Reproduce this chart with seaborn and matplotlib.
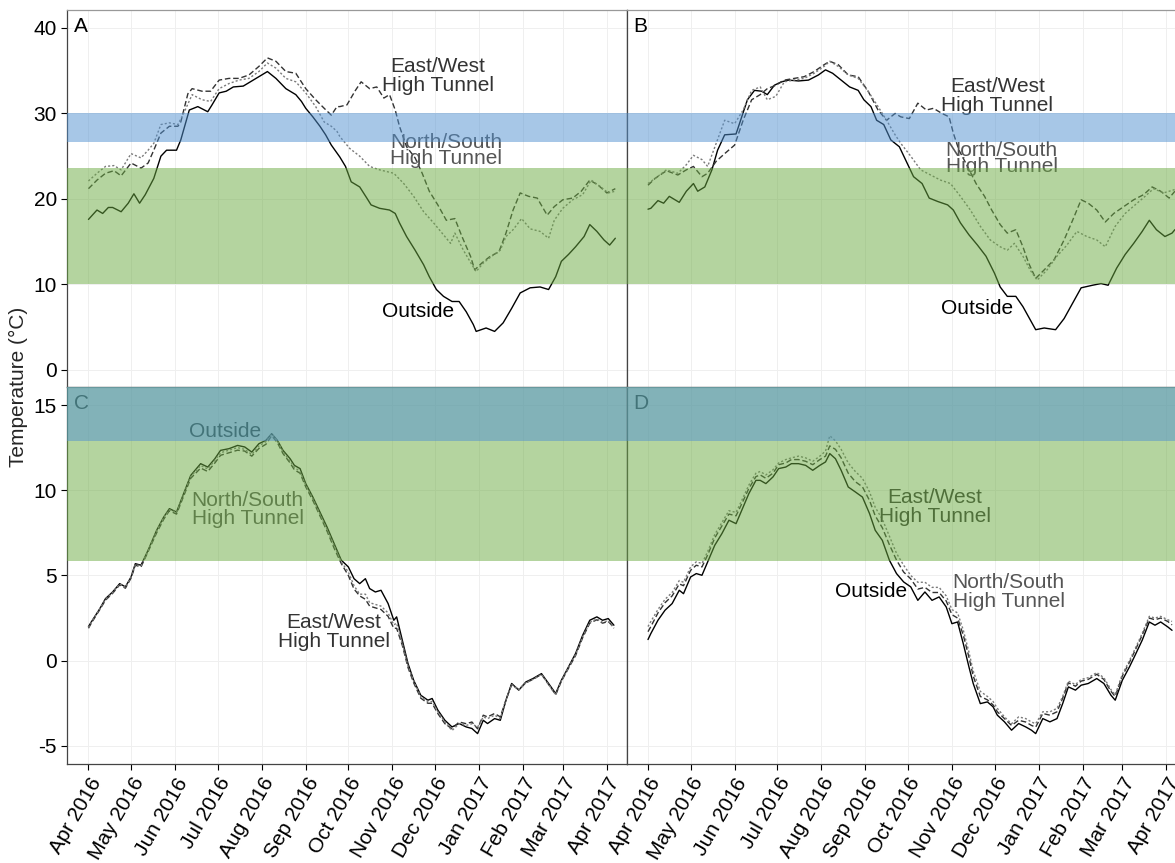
import numpy as np
import pandas as pd
import matplotlib
matplotlib.use("Agg")
import matplotlib.pyplot as plt
import matplotlib.dates as mdates
import seaborn as sns

# ====================
# data (days after 2016-04-01, temperature in deg C)
# ====================
START = pd.Timestamp("2016-04-01")

# panel A
a_out_day = [0, 6, 10, 14, 17, 23, 28, 32, 36, 40, 46, 51, 55, 62, 65, 71, 77, 84, 87, 92,
             97, 102, 109, 114, 120, 126, 132, 139, 146, 150, 153, 158, 163, 167, 171, 177, 181, 185, 191, 196,
             199, 205, 212, 216, 219, 224, 230, 236, 240, 245, 250, 256, 261, 266, 271, 273, 280, 286, 292, 298,
             304, 311, 318, 324, 329, 333, 338, 343, 349, 353, 358, 363, 367, 371]
a_out = [17.6, 18.7, 18.3, 19.0, 19.0, 18.5, 19.5, 20.6, 19.5, 20.5, 22.4, 25.0, 25.7, 25.7, 26.9, 30.4, 30.8, 30.2, 31.0, 32.4,
         32.6, 33.1, 33.2, 33.7, 34.3, 34.9, 34.1, 32.9, 32.2, 31.4, 30.6, 29.6, 28.5, 27.5, 26.3, 24.9, 23.8, 22.0, 21.4, 20.1,
         19.3, 18.9, 18.7, 18.3, 17.2, 15.6, 14.0, 12.3, 10.9, 9.4, 8.6, 8.0, 8.0, 6.8, 5.3, 4.5, 4.9, 4.5, 5.5, 7.2,
         9.0, 9.6, 9.7, 9.4, 10.9, 12.7, 13.5, 14.4, 15.6, 17.0, 16.2, 15.2, 14.6, 15.4]
a_ew_day = [0, 6, 12, 18, 23, 30, 37, 42, 46, 51, 57, 63, 65, 70, 73, 80, 86, 92, 99, 106,
            113, 120, 126, 132, 139, 146, 153, 160, 166, 171, 175, 177, 182, 188, 192, 198, 203, 208, 212, 216,
            219, 224, 230, 235, 240, 246, 252, 258, 263, 269, 272, 277, 283, 289, 294, 299, 304, 310, 316, 323,
            328, 334, 341, 347, 353, 359, 365, 371]
a_ew = [21.2, 22.2, 23.0, 23.3, 22.7, 24.2, 23.6, 24.2, 25.7, 27.7, 28.5, 28.5, 29.0, 32.3, 32.9, 32.6, 32.6, 33.9, 34.1, 34.1,
        34.5, 35.5, 36.5, 36.1, 34.9, 34.7, 32.9, 31.6, 30.6, 29.8, 30.8, 30.8, 31.0, 32.7, 33.7, 32.9, 33.1, 31.8, 32.2, 30.4,
        28.5, 26.1, 24.8, 23.0, 20.9, 19.3, 17.5, 17.7, 15.6, 13.3, 11.7, 12.5, 13.3, 13.8, 16.0, 18.7, 20.7, 20.3, 20.1, 18.1,
        19.1, 19.9, 20.1, 20.9, 22.2, 21.6, 20.7, 21.2]
a_ns_day = [0, 6, 12, 18, 23, 30, 37, 42, 46, 51, 57, 63, 67, 73, 80, 86, 92, 99, 106, 113,
            120, 126, 132, 139, 146, 153, 160, 166, 171, 175, 177, 184, 191, 198, 205, 215, 222, 229, 236, 243,
            250, 255, 258, 264, 270, 273, 278, 284, 290, 294, 299, 305, 311, 318, 324, 328, 334, 341, 348, 354,
            360, 366, 371]
a_ns = [22.1, 23.0, 23.8, 23.9, 23.4, 25.3, 24.8, 25.7, 26.5, 28.7, 28.9, 28.7, 30.0, 32.2, 31.6, 31.4, 32.9, 33.5, 33.9, 34.1,
        34.9, 35.9, 35.3, 34.1, 33.7, 32.4, 30.8, 29.0, 28.5, 27.9, 27.3, 25.9, 25.0, 23.8, 23.4, 23.0, 21.8, 20.3, 18.5, 17.2,
        15.8, 14.8, 16.0, 14.0, 12.3, 11.5, 12.5, 13.3, 14.0, 15.6, 16.4, 17.7, 16.5, 16.2, 15.4, 17.5, 18.9, 19.9, 20.5, 22.2,
        21.5, 20.7, 20.9]

# panel B
b_out_day = [0, 2, 7, 11, 15, 22, 27, 32, 35, 40, 45, 49, 54, 62, 66, 70, 75, 80, 84, 89,
             94, 99, 106, 113, 120, 125, 130, 136, 142, 148, 152, 157, 161, 166, 171, 177, 183, 187, 193, 198,
             204, 211, 215, 220, 226, 232, 238, 244, 248, 253, 259, 264, 268, 273, 279, 287, 293, 299, 305, 313,
             319, 324, 330, 336, 342, 348, 353, 358, 364, 369, 371]
b_out = [18.8, 18.9, 19.8, 19.5, 20.3, 19.6, 20.9, 21.8, 20.9, 21.4, 23.4, 25.7, 27.5, 27.6, 29.6, 31.6, 32.7, 32.6, 32.2, 33.3,
         33.7, 33.9, 33.8, 33.9, 34.5, 35.1, 34.7, 33.9, 33.1, 32.7, 31.6, 30.8, 29.2, 28.7, 26.9, 26.1, 24.0, 22.6, 21.8, 20.1,
         19.7, 19.3, 18.7, 17.2, 15.8, 14.6, 13.3, 11.3, 9.7, 8.6, 8.6, 7.4, 6.2, 4.7, 4.9, 4.7, 6.0, 7.8, 9.6, 9.9,
         10.1, 9.9, 11.9, 13.5, 14.8, 16.2, 17.5, 16.4, 15.6, 16.0, 16.4]
b_ew_day = [0, 5, 13, 21, 27, 32, 38, 42, 48, 54, 61, 67, 73, 79, 84, 90, 96, 103, 110, 117,
            124, 128, 134, 141, 148, 155, 162, 168, 174, 178, 184, 190, 196, 201, 207, 212, 215, 219, 225,
            231, 237, 242, 248, 253, 259, 264, 268, 273, 279, 286, 293, 299, 305, 310, 316, 322, 328, 335, 342,
            349, 355, 361, 367, 371]
b_ew = [21.6, 22.4, 23.3, 22.8, 23.4, 23.8, 22.6, 23.0, 24.4, 25.3, 26.3, 29.2, 31.6, 32.2, 32.9, 33.3, 33.9, 34.1, 34.3, 34.9,
        35.7, 36.1, 35.7, 34.5, 34.3, 32.6, 30.4, 29.2, 30.0, 29.6, 29.4, 31.2, 30.4, 30.6, 30.0, 29.6, 27.7, 25.7, 23.8,
        21.8, 20.3, 18.7, 17.0, 16.0, 16.4, 14.4, 12.5, 10.7, 11.7, 12.9, 15.2, 17.5, 19.9, 19.5, 18.7, 17.3, 18.3, 19.1, 19.9,
        20.5, 21.4, 20.9, 20.1, 20.9]
b_ns_day = [0, 5, 13, 21, 27, 32, 38, 42, 48, 54, 61, 67, 73, 79, 84, 90, 96, 103, 110, 117,
            124, 128, 134, 141, 148, 155, 162, 168, 174, 178, 185, 192, 199, 206, 213, 220, 227, 234, 241,
            248, 253, 258, 264, 269, 274, 281, 288, 295, 302, 309, 316, 322, 329, 336, 343, 350, 356, 363, 371]
b_ns = [21.8, 22.4, 23.4, 23.0, 24.0, 25.1, 24.6, 23.8, 26.5, 29.2, 28.8, 30.4, 32.7, 33.1, 31.6, 32.0, 33.7, 33.9, 34.1, 34.7,
        35.5, 36.1, 35.5, 34.5, 34.1, 32.6, 30.8, 29.2, 27.5, 26.5, 25.0, 23.4, 22.8, 22.2, 21.8, 20.3, 18.7, 16.8, 15.2,
        14.4, 14.0, 14.8, 13.3, 11.7, 10.5, 11.7, 13.3, 14.6, 16.2, 15.6, 15.2, 14.4, 16.8, 18.3, 19.3, 20.3, 21.2, 20.7, 21.1]

# panel C
c_day = [0, 2, 8, 12, 17, 22, 26, 30, 33, 37, 42, 48, 53, 57, 62, 67, 72, 79, 84, 89,
         93, 99, 105, 110, 115, 120, 125, 129, 133, 137, 142, 145, 149, 153, 158, 163, 168, 173, 178, 183,
         187, 191, 195, 198, 202, 206, 211, 215, 217, 221, 225, 229, 234, 239, 242, 246, 251, 256, 261, 266,
         270, 274, 278, 281, 286, 290, 294, 298, 303, 308, 313, 319, 324, 329, 333, 338, 343, 348, 353, 358,
         362, 366, 370]
c_out = [2.0, 2.27, 3.05, 3.64, 4.03, 4.52, 4.33, 4.91, 5.69, 5.6, 6.48, 7.65, 8.43, 8.92, 8.72, 9.8, 10.87, 11.56, 11.36, 11.85,
         12.34, 12.44, 12.63, 12.54, 12.24, 12.73, 12.93, 13.32, 12.93, 12.34, 11.85, 11.46, 11.27, 10.39, 9.6, 8.72, 7.84, 6.87, 5.9, 5.5,
         4.81, 4.52, 4.81, 4.23, 4.03, 4.13, 3.35, 2.37, 2.57, 1.2, -0.17, -1.15, -2.03, -2.32, -2.22, -2.9, -3.5, -3.89, -3.69, -3.89,
         -3.98, -4.28, -3.5, -3.69, -3.4, -3.5, -2.32, -1.34, -1.73, -1.25, -1.05, -0.76, -1.34, -1.93, -1.15, -0.37, 0.42, 1.49, 2.37, 2.57,
         2.37, 2.47, 2.08]
c_ew = [1.9, 2.2, 3.0, 3.55, 3.95, 4.45, 4.25, 4.85, 5.6, 5.5, 6.4, 7.5, 8.3, 8.8, 8.6, 9.65, 10.7, 11.3, 11.1, 11.6,
        12.05, 12.2, 12.35, 12.3, 12.0, 12.45, 12.7, 13.2, 12.8, 12.15, 11.6, 11.2, 11.0, 10.2, 9.4, 8.5, 7.6, 6.6, 5.7, 5.0,
        4.2, 3.8, 3.6, 3.2, 3.1, 3.0, 2.6, 1.9, 1.9, 0.9, -0.4, -1.3, -2.2, -2.5, -2.5, -3.1, -3.7, -4.0, -3.6, -3.7,
        -3.6, -4.0, -3.2, -3.3, -3.1, -3.3, -2.3, -1.4, -1.7, -1.3, -1.1, -0.8, -1.4, -2.0, -1.2, -0.45, 0.3, 1.35, 2.2, 2.4,
        2.2, 2.3, 1.95]
c_ns = [1.95, 2.25, 3.05, 3.6, 4.0, 4.5, 4.3, 4.9, 5.65, 5.55, 6.45, 7.6, 8.4, 8.85, 8.7, 9.75, 10.8, 11.45, 11.25, 11.75,
        12.2, 12.35, 12.5, 12.4, 12.1, 12.6, 12.85, 13.3, 12.9, 12.25, 11.7, 11.35, 11.1, 10.3, 9.5, 8.6, 7.7, 6.75, 5.8, 5.2,
        4.4, 3.9, 3.9, 3.4, 3.3, 3.2, 2.8, 2.1, 2.2, 1.0, -0.3, -1.2, -2.1, -2.4, -2.4, -3.0, -3.6, -4.1, -3.7, -3.8,
        -3.7, -3.9, -3.3, -3.4, -3.2, -3.4, -2.3, -1.4, -1.7, -1.3, -1.1, -0.8, -1.4, -2.0, -1.2, -0.4, 0.35, 1.4, 2.25, 2.45,
        2.25, 2.35, 1.9]

# panel D
d_day = [0, 2, 7, 12, 17, 22, 25, 30, 34, 38, 42, 47, 52, 57, 62, 66, 71, 76, 79, 83,
         88, 92, 97, 101, 106, 111, 116, 121, 125, 128, 132, 136, 141, 146, 151, 156, 160, 165, 170, 175,
         180, 185, 190, 195, 200, 205, 210, 214, 218, 222, 226, 229, 234, 239, 243, 246, 251, 256, 261, 266,
         270, 273, 278, 283, 288, 292, 296, 301, 305, 310, 316, 321, 326, 329, 334, 339, 343, 348, 353, 357,
         361, 366, 369]
d_out = [1.24, 1.59, 2.37, 2.96, 3.35, 4.13, 3.93, 4.91, 5.11, 5.01, 5.79, 6.77, 7.45, 8.24, 8.04, 8.82, 9.8, 10.58, 10.58, 10.39,
         10.78, 11.27, 11.36, 11.56, 11.56, 11.46, 11.17, 11.46, 11.66, 12.15, 11.85, 11.17, 10.19, 9.9, 9.6, 8.63, 7.65, 7.06, 5.89, 5.11,
         4.62, 4.33, 3.54, 4.03, 3.54, 3.74, 3.15, 2.17, 2.27, 1.0, -0.37, -1.34, -2.52, -2.42, -2.71, -3.2, -3.59, -4.08, -3.69, -3.89,
         -4.08, -4.28, -3.4, -3.59, -3.4, -2.52, -1.54, -1.73, -1.44, -1.34, -1.05, -1.34, -2.03, -2.32, -1.15, -0.37, 0.32, 1.2, 2.27, 2.08,
         2.27, 1.98, 1.78]
d_ew = [1.7, 2.0, 2.8, 3.4, 3.8, 4.5, 4.4, 5.3, 5.6, 5.5, 6.2, 7.2, 7.9, 8.6, 8.5, 9.2, 10.1, 10.8, 10.9, 10.7,
        11.0, 11.5, 11.6, 11.8, 11.8, 11.7, 11.5, 11.8, 12.0, 12.6, 12.4, 11.9, 11.0, 10.5, 10.2, 9.4, 8.5, 7.8, 6.8, 5.9,
        5.2, 4.8, 4.2, 4.3, 4.0, 4.0, 3.5, 2.7, 2.5, 1.5, 0.2, -0.9, -2.1, -2.3, -2.6, -3.0, -3.4, -3.8, -3.5, -3.6,
        -3.8, -3.9, -3.1, -3.2, -3.0, -2.2, -1.3, -1.5, -1.2, -1.1, -0.8, -1.1, -1.8, -2.1, -0.9, -0.1, 0.6, 1.5, 2.5, 2.4,
        2.5, 2.3, 2.1]
d_ns = [2.0, 2.3, 3.0, 3.6, 4.0, 4.7, 4.6, 5.5, 5.8, 5.7, 6.4, 7.4, 8.1, 8.8, 8.7, 9.4, 10.3, 11.0, 11.1, 10.9,
        11.2, 11.6, 11.8, 11.9, 12.0, 11.9, 11.7, 12.0, 12.3, 13.2, 12.9, 12.4, 11.6, 11.1, 10.7, 9.9, 9.0, 8.3, 7.3, 6.3,
        5.6, 5.0, 4.6, 4.6, 4.3, 4.3, 3.8, 3.0, 2.8, 1.8, 0.5, -0.6, -1.8, -2.1, -2.4, -2.8, -3.3, -3.7, -3.3, -3.4,
        -3.6, -3.7, -3.0, -3.0, -2.8, -2.1, -1.2, -1.4, -1.1, -1.0, -0.7, -1.0, -1.7, -2.0, -0.8, 0.0, 0.7, 1.6, 2.6, 2.5,
        2.6, 2.4, 2.3]

SERIES = ["Outside", "East/West", "North/South"]
LINE_COLORS = {"Outside": "#000000", "East/West": "#333333", "North/South": "#7a7a7a"}
LINE_DASHES = {"Outside": "", "East/West": (4, 2), "North/South": (1.5, 1.5)}
LABEL_COLORS = {"Outside": "#000000", "East/West": "#333333", "North/South": "#555555"}

GREEN = "#6bab41"
BLUE = "#5191d1"


def to_dates(days):
    return START + pd.to_timedelta(np.asarray(days), unit="D")


def panel_frame(pairs):
    """long table for one panel"""
    frames = []
    for name, (days, temps) in zip(SERIES, pairs):
        assert len(days) == len(temps), name
        frames.append(pd.DataFrame({"date": to_dates(days), "temp": temps, "series": name}))
    return pd.concat(frames, ignore_index=True)


# ====================
# figure
# ====================
sns.set_theme(style="white")
plt.rcParams["font.family"] = ["Liberation Sans", "DejaVu Sans"]
plt.rcParams["axes.unicode_minus"] = False

fig = plt.figure(figsize=(11.75, 8.63), dpi=100)
W, H = 0.4762, 0.4368
ax_a = fig.add_axes([0.0574, 0.5516, W, H])
ax_b = fig.add_axes([0.5336, 0.5516, W, H])
ax_c = fig.add_axes([0.0574, 0.1148, W, H])
ax_d = fig.add_axes([0.5336, 0.1148, W, H])

top_bands = [(10.0, 23.66, GREEN), (26.65, 30.0, BLUE)]
bottom_bands = [(5.83, 30.0, GREEN), (12.89, 30.0, BLUE)]

panels = [
    ("A", ax_a, [(a_out_day, a_out), (a_ew_day, a_ew), (a_ns_day, a_ns)], (-2.0, 42.1), [0, 10, 20, 30, 40], top_bands,
     [("Outside", "Outside", 232, 6.8, 1.0),
      ("East/West", "East/West\nHigh Tunnel", 246, 34.4, 1.0),
      ("North/South", "North/South\nHigh Tunnel", 252, 25.65, 0.85)]),
    ("B", ax_b, [(b_out_day, b_out), (b_ew_day, b_ew), (b_ns_day, b_ns)], (-2.0, 42.1), [0, 10, 20, 30, 40], top_bands,
     [("Outside", "Outside", 232, 7.2, 1.0),
      ("East/West", "East/West\nHigh Tunnel", 246, 32.05, 1.0),
      ("North/South", "North/South\nHigh Tunnel", 249, 24.7, 0.8)]),
    ("C", ax_c, [(c_day, c_out), (c_day, c_ew), (c_day, c_ns)], (-6.06, 16.06), [-5, 0, 5, 10, 15], bottom_bands,
     [("Outside", "Outside", 96, 13.42, 1.0),
      ("North/South", "North/South\nHigh Tunnel", 112, 8.88, 0.95),
      ("East/West", "East/West\nHigh Tunnel", 173, 1.69, 1.0)]),
    ("D", ax_d, [(d_day, d_out), (d_day, d_ew), (d_day, d_ns)], (-6.06, 16.06), [-5, 0, 5, 10, 15], bottom_bands,
     [("East/West", "East/West\nHigh Tunnel", 202, 9.02, 1.0),
      ("Outside", "Outside", 157, 4.03, 1.0),
      ("North/South", "North/South\nHigh Tunnel", 254, 4.03, 0.95)]),
]

for letter, ax, pairs, ylim, yticks, bands, labels in panels:
    df = panel_frame(pairs)
    sns.lineplot(data=df, x="date", y="temp", hue="series", style="series",
                 hue_order=SERIES, style_order=SERIES,
                 palette=LINE_COLORS, dashes=LINE_DASHES,
                 estimator=None, linewidth=1.0, legend=False, ax=ax)

    # translucent ranges drawn over lines and labels
    for lo, hi, col in bands:
        ax.axhspan(lo, hi, color=col, alpha=0.5, lw=0, zorder=4)

    for key, txt, day, val, ls in labels:
        ax.text(to_dates([day])[0], val, txt, ha="center", va="center", fontsize=15,
                color=LABEL_COLORS[key], linespacing=ls, zorder=3)
    ax.text(0.012, 0.955, letter, transform=ax.transAxes, fontsize=15,
            ha="left", va="center", color="black", zorder=3)

    ax.set_xlim(to_dates([-14.8])[0], to_dates([379.2])[0])
    ax.set_ylim(*ylim)
    ax.set_yticks(yticks)
    ax.xaxis.set_major_locator(mdates.MonthLocator())
    ax.xaxis.set_major_formatter(mdates.DateFormatter("%b %Y"))
    ax.grid(True, color="#efefef", lw=0.7)
    ax.set_xlabel("")
    ax.set_ylabel("")
    for side, sp in ax.spines.items():
        sp.set_color("#444444")
        sp.set_linewidth(0.9)
    ax.spines["top"].set_color("#999999")
    ax.tick_params(axis="both", which="major", labelsize=15, colors="black",
                   length=4, width=0.8, direction="out")

for ax in (ax_a, ax_b):
    ax.tick_params(axis="x", length=0, labelbottom=False)
for ax in (ax_b, ax_d):
    ax.tick_params(axis="y", length=0, labelleft=False)
for ax in (ax_a, ax_c):
    ax.tick_params(axis="y", left=True)
for ax in (ax_c, ax_d):
    ax.tick_params(axis="x", bottom=True)
    plt.setp(ax.get_xticklabels(), rotation=60, ha="right", rotation_mode="anchor")

fig.text(0.0153, 0.5516, "Temperature (\u00b0C)", rotation=90, ha="center", va="center", fontsize=15)

fig.savefig("out.png", dpi=100)
